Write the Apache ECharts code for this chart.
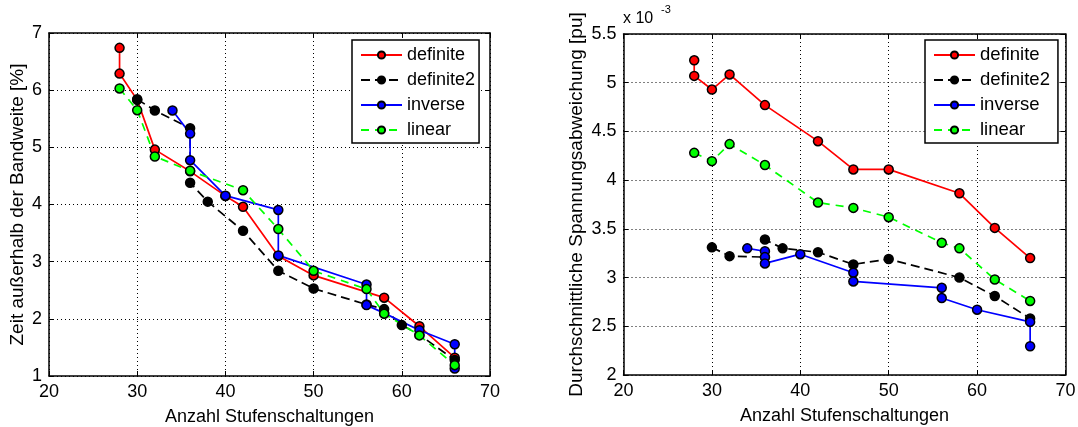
<!DOCTYPE html>
<html><head><meta charset="utf-8">
<script src="https://cdn.jsdelivr.net/npm/echarts@6/dist/echarts.min.js"></script>
<style>html,body{margin:0;padding:0;background:#fff}#c{width:1078px;height:427px}</style>
</head><body><div id="c"></div>
<script>
// ---- data (left chart) ----
const leftDefX  = [28, 28, 30, 32, 36, 40, 42, 46, 50, 58, 62, 66];
const leftDefY  = [6.74, 6.29, 5.83, 4.96, 4.58, 4.15, 3.96, 3.10, 2.76, 2.37, 1.87, 1.32];
const leftDef2X = [30, 32, 36, 36, 38, 42, 46, 50, 56, 58, 60, 62, 66];
const leftDef2Y = [5.84, 5.645, 5.335, 4.38, 4.05, 3.54, 2.84, 2.53, 2.25, 2.17, 1.89, 1.72, 1.28];
const leftInvX  = [34, 36, 36, 40, 46, 46, 56, 56, 58, 62, 66, 66];
const leftInvY  = [5.645, 5.24, 4.775, 4.155, 3.905, 3.11, 2.60, 2.24, 2.10, 1.80, 1.555, 1.13];
const leftLinX  = [28, 30, 32, 36, 42, 46, 50, 56, 58, 62, 66];
const leftLinY  = [6.03, 5.65, 4.84, 4.59, 4.25, 3.57, 2.84, 2.52, 2.09, 1.71, 1.19];
// ---- data (right chart, values in 1e-3 pu) ----
const rightDefX  = [28, 28, 30, 32, 36, 42, 46, 50, 58, 62, 66];
const rightDefY  = [5.23, 5.07, 4.93, 5.085, 4.77, 4.40, 4.11, 4.11, 3.865, 3.51, 3.20];
const rightDef2X = [30, 32, 36, 36, 38, 42, 46, 50, 58, 62, 66];
const rightDef2Y = [3.31, 3.22, 3.21, 3.39, 3.30, 3.26, 3.135, 3.19, 3.00, 2.81, 2.58];
const rightInvX  = [34, 36, 36, 36, 40, 46, 46, 56, 56, 60, 66, 66];
const rightInvY  = [3.30, 3.27, 3.21, 3.145, 3.24, 3.05, 2.96, 2.895, 2.79, 2.67, 2.545, 2.295];
const rightLinX  = [28, 30, 32, 36, 42, 46, 50, 56, 58, 62, 66];
const rightLinY  = [4.28, 4.195, 4.37, 4.155, 3.77, 3.715, 3.62, 3.357, 3.30, 2.98, 2.76];
// ---- labels ----
const seriesNames = ['definite', 'definite2', 'inverse', 'linear'];
const xName = 'Anzahl Stufenschaltungen';
const leftYName = 'Zeit außerhalb der Bandweite [%]';
const rightYName = 'Durchschnittliche Spannungsabweichung [pu]';

const FONT = 'Liberation Sans, Arial, sans-serif';
const pairs = (xs, ys) => xs.map((x, i) => [x, ys[i]]);
const colors = ['#ff0000', '#000000', '#0000ff', '#00ff00'];
const dashes = ['solid', [9, 5], 'solid', [8, 6]];

const grids = [
  {left: 49, top: 33, width: 441, height: 343, outerBoundsMode: 'none', containLabel: false},
  {left: 623.5, top: 34, width: 442, height: 341, outerBoundsMode: 'none', containLabel: false}
];
const gridLine = {show: true, lineStyle: {color: '#000', width: 1, type: [1, 3]}};
function xAxes(gi) {
  return [
    {type: 'value', gridIndex: gi, min: 20, max: 70, interval: 10, position: 'bottom',
     name: xName, nameLocation: 'middle', nameGap: 32,
     nameTextStyle: {fontFamily: FONT, fontSize: 18, color: '#000'},
     axisLine: {lineStyle: {color: '#000', width: 1.5}},
     axisTick: {inside: true, length: 5, lineStyle: {color: '#000'}},
     axisLabel: {fontFamily: FONT, fontSize: 18, color: '#000', margin: 7},
     splitLine: gridLine},
    {type: 'value', gridIndex: gi, min: 20, max: 70, interval: 10, position: 'top',
     axisLine: {lineStyle: {color: '#000', width: 1.5}},
     axisTick: {inside: true, length: 5, lineStyle: {color: '#000'}},
     axisLabel: {show: false}, splitLine: {show: false}}
  ];
}
function yAxes(gi, min, max, interval, name, gap) {
  return [
    {type: 'value', gridIndex: gi, min, max, interval, position: 'left',
     name, nameLocation: 'middle', nameGap: gap,
     nameTextStyle: {fontFamily: FONT, fontSize: 19, color: '#000'},
     axisLine: {show: true, lineStyle: {color: '#000', width: 1.5}},
     axisTick: {show: true, inside: true, length: 5, lineStyle: {color: '#000'}},
     axisLabel: {fontFamily: FONT, fontSize: 18, color: '#000', margin: 7},
     splitLine: gridLine},
    {type: 'value', gridIndex: gi, min, max, interval, position: 'right',
     axisLine: {show: true, lineStyle: {color: '#000', width: 1.5}},
     axisTick: {show: true, inside: true, length: 5, lineStyle: {color: '#000'}},
     axisLabel: {show: false}, splitLine: {show: false}}
  ];
}
function mk(name, idx, data, gi) {
  return {
    type: 'line', name, data, xAxisIndex: gi * 2, yAxisIndex: gi * 2,
    symbol: 'circle', symbolSize: 9, showAllSymbol: true, animation: false,
    lineStyle: {color: colors[idx], width: 1.7, type: dashes[idx]},
    itemStyle: {color: colors[idx], borderColor: '#000', borderWidth: 1.5},
    emphasis: {disabled: true}
  };
}
const leftData = [pairs(leftDefX, leftDefY), pairs(leftDef2X, leftDef2Y), pairs(leftInvX, leftInvY), pairs(leftLinX, leftLinY)];
const rightData = [pairs(rightDefX, rightDefY), pairs(rightDef2X, rightDef2Y), pairs(rightInvX, rightInvY), pairs(rightLinX, rightLinY)];
const series = [];
seriesNames.forEach((n, i) => series.push(mk(n, i, leftData[i], 0)));
seriesNames.forEach((n, i) => series.push(mk(n, i, rightData[i], 1)));
series.forEach((s, i) => { s.id = 's' + i; });

function legend(left, top, fs, padR) {
  return {
    show: true, orient: 'vertical', left, top, itemWidth: 41, itemHeight: 9, itemGap: 5,
    padding: [5, padR, 3, 8], borderColor: '#000', borderWidth: 1.5, backgroundColor: '#fff',
    textStyle: {fontFamily: FONT, fontSize: fs, color: '#000', lineHeight: 20},
    data: seriesNames, selectedMode: false
  };
}

const chart = echarts.init(document.getElementById('c'), null, {renderer: 'canvas'});
chart.setOption({
  backgroundColor: '#fff',
  animation: false,
  grid: grids,
  xAxis: [...xAxes(0), ...xAxes(1)],
  yAxis: [...yAxes(0, 1, 7, 1, leftYName, 22), ...yAxes(1, 2, 5.5, 0.5, rightYName, 37)],
  legend: [legend(352, 40, 18, 4), legend(925, 40, 18.5, 8)],
  series,
  graphic: [
    {type: 'text', left: 623, top: 11, style: {text: 'x 10', font: '16px ' + FONT, fill: '#000'}},
    {type: 'text', left: 661, top: 4, style: {text: '-3', font: '11px ' + FONT, fill: '#000'}}
  ]
});
</script></body></html>
